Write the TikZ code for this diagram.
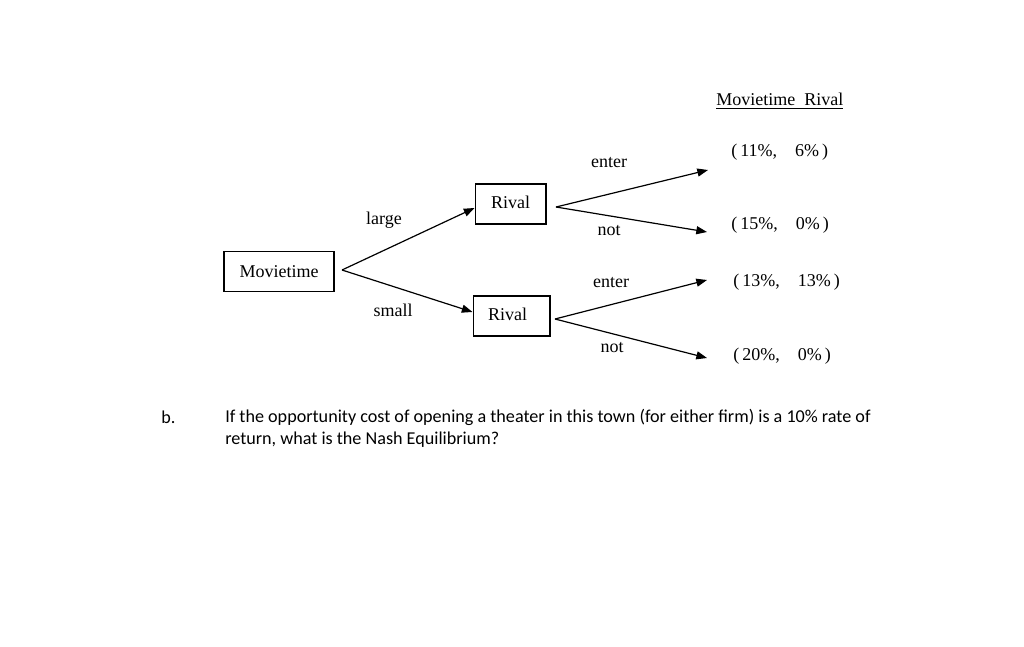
\documentclass[tikz,border=0pt]{standalone}
\usepackage{fontspec}
\setmainfont{Liberation Serif}
\newfontfamily\calfont{Carlito}
\usetikzlibrary{arrows.meta}
\begin{document}
\begin{tikzpicture}[x=0.75pt,y=-0.75pt,
  box/.style={draw,line width=1pt,minimum width=#1,minimum height=30pt,inner sep=0pt,font=\fontsize{13.5}{16}\selectfont},
  lbl/.style={font=\fontsize{13.5}{16}\selectfont,inner sep=0pt},
  edge/.style={line width=0.9pt,-{Triangle[length=8pt,width=6pt]}},
  body/.style={font=\calfont\fontsize{13.6}{17}\selectfont,inner sep=0pt,anchor=west}]
\useasboundingbox (0,0) rectangle (1024,646);
% boxes
\node[box=82.5pt] (mt) at (279,271.5) {Movietime};
\node[box=53pt] (r1) at (510.5,204) {\raisebox{2pt}{Rival}};
\node[box=57.5pt] (r2) at (511.5,316) {\hspace*{-6pt}\raisebox{2pt}{Rival}};
% anchor points
\coordinate (mtout) at (342,270);
\coordinate (r1out) at (556,207);
\coordinate (r2out) at (555,319);
\coordinate (e1) at (708,170);
\coordinate (n1) at (707,232);
\coordinate (e2) at (707,280);
\coordinate (n2) at (707,358);
% edges
\draw[edge] (mtout) -- (r1.west |- 0,208);
\draw[edge] (mtout) -- (r2.west |- 0,312);
\draw[edge] (r1out) -- (e1);
\draw[edge] (r1out) -- (n1);
\draw[edge] (r2out) -- (e2);
\draw[edge] (r2out) -- (n2);
% labels
\node[lbl] (large) at (384,220) {large};
\node[lbl] (small) at (393,310) {small};
\node[lbl] (en1) at (609,163) {enter};
\node[lbl] (no1) at (609,231) {not};
\node[lbl] (en2) at (611,283) {enter};
\node[lbl] (no2) at (612,348) {not};
% payoffs
\node[lbl,anchor=west] (hdr) at (716,101) {\underline{Movietime\ \ Rival}};
\node[lbl,anchor=west] (p1) at (731,152) {(\,11\%,\quad 6\%\,)};
\node[lbl,anchor=west] (p2) at (731,225) {(\,15\%,\quad 0\%\,)};
\node[lbl,anchor=west] (p3) at (733,282) {(\,13\%,\quad 13\%\,)};
\node[lbl,anchor=west] (p4) at (733,356) {(\,20\%,\quad 0\%\,)};
% question
\node[body] (b) at (161,417) {b.};
\node[body] (q1) at (225,417) {If the opportunity cost of opening a theater in this town (for either firm) is a 10\% rate of};
\node[body] (q2) at (225,440) {return, what is the Nash Equilibrium?};
\end{tikzpicture}
\end{document}
